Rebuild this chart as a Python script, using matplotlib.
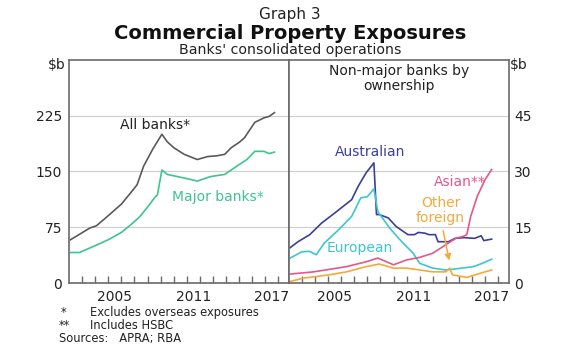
import matplotlib.pyplot as plt

plt.rcParams['font.family'] = ['DejaVu Sans']

# left panel ($b)
all_years = [2002.1, 2003.6, 2004.1, 2004.9, 2006.0, 2006.7, 2007.2, 2007.7, 2008.4, 2009.1,
             2009.5, 2010.0, 2010.8, 2011.8, 2012.6, 2013.3, 2013.9, 2014.4, 2015.0, 2015.4,
             2016.2, 2016.9, 2017.3, 2017.7]
all_banks = [58, 74, 77, 89, 106, 121, 132, 157, 180, 200,
             190, 182, 173, 166, 170, 171, 173, 182, 189, 195,
             216, 222, 224, 229]

major_years = [2002.1, 2002.8, 2004.1, 2005.1, 2006.0, 2006.7, 2007.4, 2008.0, 2008.6, 2008.75,
               2009.1, 2009.5, 2010.3, 2011.1, 2011.8, 2012.8, 2013.9, 2014.9, 2015.6, 2016.2,
               2016.9, 2017.3, 2017.7]
major_banks = [41, 41, 51, 59, 68, 78, 89, 102, 116, 118,
               152, 146, 143, 140, 137, 143, 146, 158, 166, 177,
               177, 174, 176]

# right panel ($b)
aus_years = [2002.1, 2002.7, 2003.6, 2004.5, 2005.5, 2006.8, 2007.3, 2007.9, 2008.5, 2008.7,
             2008.9, 2009.6, 2010.2, 2011.1, 2011.6, 2011.9, 2012.4, 2012.7, 2013.2, 2013.4,
             2014.2, 2014.7, 2015.4, 2016.2, 2016.7, 2016.9, 2017.5]
australian = [9.5, 11.1, 13.0, 16.1, 18.8, 22.4, 26.0, 29.6, 32.3, 18.4,
              18.4, 17.5, 15.2, 13.0, 13.0, 13.6, 13.4, 13.0, 13.0, 11.1,
              11.1, 12.0, 12.2, 12.0, 12.7, 11.4, 11.8]

eur_years = [2002.1, 2003.0, 2003.6, 2004.1, 2004.7, 2005.8, 2006.8, 2007.5, 2008.0, 2008.5,
             2008.8, 2009.7, 2010.5, 2011.5, 2012.0, 2013.0, 2014.0, 2015.0, 2016.1, 2016.8,
             2017.5]
european = [6.7, 8.4, 8.5, 7.6, 10.7, 14.3, 17.9, 22.9, 23.2, 25.3,
            19.2, 14.8, 11.6, 8.0, 5.3, 4.0, 3.5, 3.9, 4.4, 5.3,
            6.4]

asia_years = [2002.1, 2003.9, 2006.4, 2007.9, 2008.8, 2010.0, 2011.0, 2012.0, 2013.0, 2014.0,
              2014.8, 2015.3, 2015.6, 2015.9, 2016.4, 2017.0, 2017.5]
asian = [2.4, 3.0, 4.4, 5.7, 6.7, 4.9, 6.2, 6.9, 8.0, 10.3,
         12.1, 12.5, 13.0, 17.9, 23.3, 27.8, 30.5]

oth_years = [2002.1, 2003.1, 2005.1, 2006.4, 2007.9, 2008.9, 2010.0, 2011.0, 2012.0, 2013.0,
             2014.0, 2014.3, 2014.5, 2015.6, 2016.6, 2017.5]
other_foreign = [0.4, 1.3, 2.2, 3.0, 4.4, 5.1, 4.0, 4.0, 3.5, 3.0,
                 3.0, 4.0, 2.2, 1.5, 2.6, 3.5]

tick_years = list(range(2003, 2019))
label_years = [2005, 2011, 2017]

c_all = '#5a5a5a'
c_major = '#3fc48e'
c_aus = '#3b3f98'
c_eur = '#3cc6d0'
c_asia = '#e2588c'
c_oth = '#f2aa3a'
grid_c = '#d0d0d0'
frame_c = '#6a6a6a'
txt_c = '#222222'

fig = plt.figure(figsize=(5.8, 3.52), dpi=100)
ax1 = fig.add_axes([0.119, 0.196, 0.379, 0.634])
ax2 = fig.add_axes([0.498, 0.196, 0.379, 0.634])

for ax, ymax, step in [(ax1, 300, 75), (ax2, 60, 15)]:
    ax.set_xlim(2002, 2018.8)
    ax.set_ylim(0, ymax)
    ax.set_yticks(range(0, ymax, step))
    for y in range(step, ymax, step):
        ax.axhline(y, color=grid_c, lw=0.9, zorder=0)
    ax.set_xticks(tick_years)
    ax.set_xticklabels([])
    ax.set_xticks([y + 0.5 for y in label_years], minor=True)
    ax.set_xticklabels([str(y) for y in label_years], minor=True, fontsize=10, color=txt_c)
    ax.tick_params(axis='x', which='major', direction='in', length=5, color=frame_c, width=1)
    ax.tick_params(axis='x', which='minor', length=0, pad=5)
    ax.tick_params(axis='y', length=0, labelsize=10, pad=5, labelcolor=txt_c)
    for s in ax.spines.values():
        s.set_color(frame_c)
        s.set_linewidth(1.2)

ax2.yaxis.tick_right()
ax2.tick_params(axis='y', length=0, labelsize=10, pad=4)

ax1.plot(all_years, all_banks, color=c_all, lw=1.2)
ax1.plot(major_years, major_banks, color=c_major, lw=1.2)
ax1.text(2008.6, 213, 'All banks*', color=txt_c, fontsize=10, ha='center', va='center')
ax1.text(2013.4, 116, 'Major banks*', color=c_major, fontsize=10, ha='center', va='center')

ax2.plot(aus_years, australian, color=c_aus, lw=1.2)
ax2.plot(eur_years, european, color=c_eur, lw=1.2)
ax2.plot(asia_years, asian, color=c_asia, lw=1.2)
ax2.plot(oth_years, other_foreign, color=c_oth, lw=1.2)
ax2.text(2008.2, 35.2, 'Australian', color=c_aus, fontsize=10, ha='center', va='center')
ax2.text(2007.4, 9.5, 'European', color=c_eur, fontsize=10, ha='center', va='center')
ax2.text(2015.1, 27.2, 'Asian**', color=c_asia, fontsize=10, ha='center', va='center')
ax2.text(2013.6, 19.6, 'Other\nforeign', color=c_oth, fontsize=10, ha='center', va='center',
         linespacing=1.1)
ax2.annotate('', xy=(2014.3, 5.3), xytext=(2013.75, 14.8),
             arrowprops=dict(arrowstyle='-|>', color=c_oth, lw=1.1, mutation_scale=9))
ax2.text(2010.4, 55, 'Non-major banks by\nownership', color=txt_c, fontsize=10,
         ha='center', va='center', linespacing=1.1)

fig.text(0.5, 0.958, 'Graph 3', ha='center', va='center', fontsize=11, color=txt_c)
fig.text(0.5, 0.905, 'Commercial Property Exposures', ha='center', va='center',
         fontsize=14, fontweight='bold', color='#111111')
fig.text(0.5, 0.859, "Banks' consolidated operations", ha='center', va='center',
         fontsize=10.2, color=txt_c)
fig.text(0.097, 0.815, '$b', ha='center', va='center', fontsize=10, color=txt_c)
fig.text(0.895, 0.815, '$b', ha='center', va='center', fontsize=10, color=txt_c)

fig.text(0.105, 0.113, '*', ha='left', va='center', fontsize=8.3, color=txt_c)
fig.text(0.155, 0.113, 'Excludes overseas exposures', ha='left', va='center', fontsize=8.3, color=txt_c)
fig.text(0.102, 0.076, '**', ha='left', va='center', fontsize=8.3, color=txt_c)
fig.text(0.155, 0.076, 'Includes HSBC', ha='left', va='center', fontsize=8.3, color=txt_c)
fig.text(0.102, 0.039, 'Sources:   APRA; RBA', ha='left', va='center', fontsize=8.3, color=txt_c)

fig.savefig('out.png', dpi=100)
